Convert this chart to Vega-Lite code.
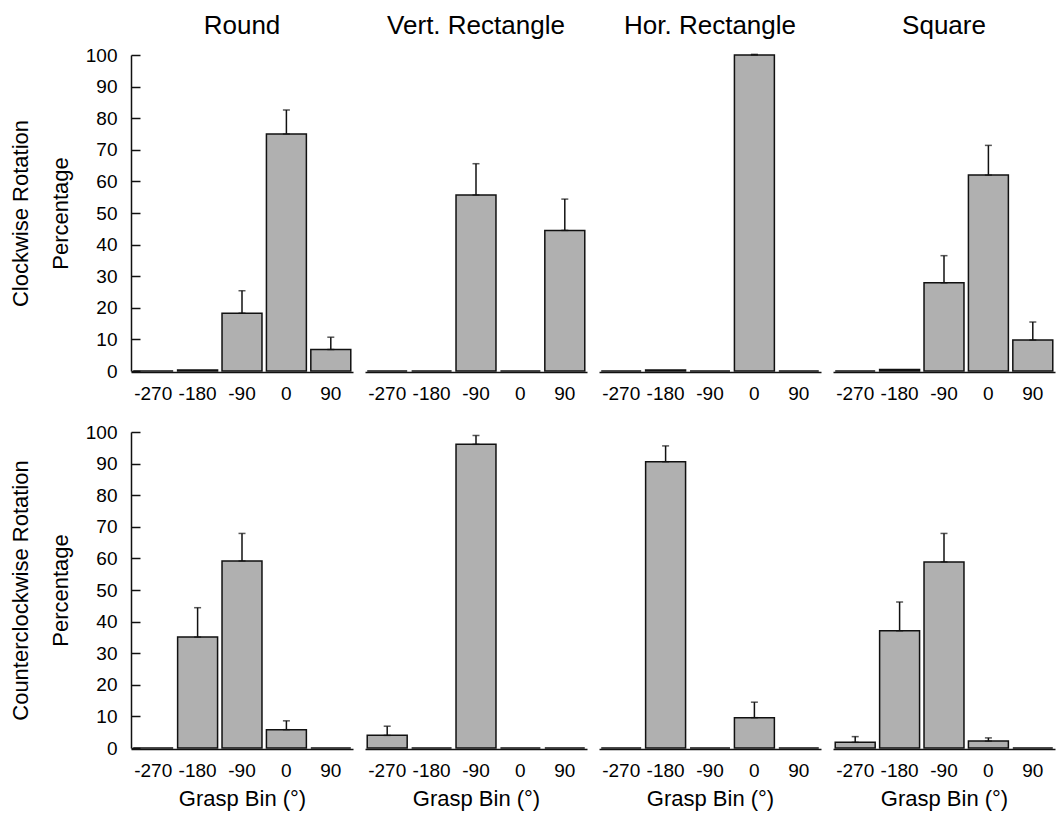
{
  "$schema": "https://vega.github.io/schema/vega-lite/v6.json",
  "padding": {"left": 9, "top": 13, "right": 2, "bottom": 2},
  "data": {
    "values": [
      {"rot": "CW", "shape": "Round", "bin": -270, "value": 0, "err": null},
      {"rot": "CW", "shape": "Round", "bin": -180, "value": 0.3, "err": null},
      {"rot": "CW", "shape": "Round", "bin": -90, "value": 18.3, "err": 25.4},
      {"rot": "CW", "shape": "Round", "bin": 0, "value": 75.0, "err": 82.6},
      {"rot": "CW", "shape": "Round", "bin": 90, "value": 6.8, "err": 10.7},
      {"rot": "CW", "shape": "Vert. Rectangle", "bin": -270, "value": 0, "err": null},
      {"rot": "CW", "shape": "Vert. Rectangle", "bin": -180, "value": 0, "err": null},
      {"rot": "CW", "shape": "Vert. Rectangle", "bin": -90, "value": 55.7, "err": 65.6},
      {"rot": "CW", "shape": "Vert. Rectangle", "bin": 0, "value": 0, "err": null},
      {"rot": "CW", "shape": "Vert. Rectangle", "bin": 90, "value": 44.5, "err": 54.4},
      {"rot": "CW", "shape": "Hor. Rectangle", "bin": -270, "value": 0, "err": null},
      {"rot": "CW", "shape": "Hor. Rectangle", "bin": -180, "value": 0.3, "err": null},
      {"rot": "CW", "shape": "Hor. Rectangle", "bin": -90, "value": 0, "err": null},
      {"rot": "CW", "shape": "Hor. Rectangle", "bin": 0, "value": 100, "err": 100.2},
      {"rot": "CW", "shape": "Hor. Rectangle", "bin": 90, "value": 0, "err": null},
      {"rot": "CW", "shape": "Square", "bin": -270, "value": 0, "err": null},
      {"rot": "CW", "shape": "Square", "bin": -180, "value": 0.5, "err": null},
      {"rot": "CW", "shape": "Square", "bin": -90, "value": 27.9, "err": 36.5},
      {"rot": "CW", "shape": "Square", "bin": 0, "value": 62.0, "err": 71.4},
      {"rot": "CW", "shape": "Square", "bin": 90, "value": 9.8, "err": 15.5},
      {"rot": "CCW", "shape": "Round", "bin": -270, "value": 0, "err": null},
      {"rot": "CCW", "shape": "Round", "bin": -180, "value": 35.1, "err": 44.4},
      {"rot": "CCW", "shape": "Round", "bin": -90, "value": 59.2, "err": 67.9},
      {"rot": "CCW", "shape": "Round", "bin": 0, "value": 5.8, "err": 8.6},
      {"rot": "CCW", "shape": "Round", "bin": 90, "value": 0, "err": null},
      {"rot": "CCW", "shape": "Vert. Rectangle", "bin": -270, "value": 4.0, "err": 6.9},
      {"rot": "CCW", "shape": "Vert. Rectangle", "bin": -180, "value": 0, "err": null},
      {"rot": "CCW", "shape": "Vert. Rectangle", "bin": -90, "value": 96.1, "err": 98.9},
      {"rot": "CCW", "shape": "Vert. Rectangle", "bin": 0, "value": 0, "err": null},
      {"rot": "CCW", "shape": "Vert. Rectangle", "bin": 90, "value": 0, "err": null},
      {"rot": "CCW", "shape": "Hor. Rectangle", "bin": -270, "value": 0, "err": null},
      {"rot": "CCW", "shape": "Hor. Rectangle", "bin": -180, "value": 90.6, "err": 95.6},
      {"rot": "CCW", "shape": "Hor. Rectangle", "bin": -90, "value": 0, "err": null},
      {"rot": "CCW", "shape": "Hor. Rectangle", "bin": 0, "value": 9.6, "err": 14.5},
      {"rot": "CCW", "shape": "Hor. Rectangle", "bin": 90, "value": 0, "err": null},
      {"rot": "CCW", "shape": "Square", "bin": -270, "value": 1.8, "err": 3.6},
      {"rot": "CCW", "shape": "Square", "bin": -180, "value": 37.1, "err": 46.2},
      {"rot": "CCW", "shape": "Square", "bin": -90, "value": 58.9, "err": 67.9},
      {"rot": "CCW", "shape": "Square", "bin": 0, "value": 2.2, "err": 3.2},
      {"rot": "CCW", "shape": "Square", "bin": 90, "value": 0, "err": null}
    ]
  },
  "spacing": 20,
  "vconcat": [
    {
      "transform": [{"filter": "datum.rot === 'CW'"}],
      "facet": {
        "column": {
          "field": "shape", "type": "nominal",
          "sort": ["Round", "Vert. Rectangle", "Hor. Rectangle", "Square"],
          "header": {"title": null, "labelFontSize": 26, "labelPadding": 14, "labelColor": "black"}
        }
      },
      "spacing": 12,
      "spec": {
        "width": 222,
        "height": 316,
        "encoding": {
          "x": {
            "field": "bin", "type": "ordinal",
            "scale": {"domain": [-270, -180, -90, 0, 90], "paddingInner": 0.1, "paddingOuter": 0.05},
            "axis": {"title": null, "ticks": false, "labelAngle": 0, "labelPadding": 12}
          },
          "y": {
            "field": "value", "type": "quantitative",
            "scale": {"domain": [0, 100], "nice": false},
            "axis": {"title": ["Clockwise Rotation", "Percentage"], "values": [0, 10, 20, 30, 40, 50, 60, 70, 80, 90, 100], "labelOverlap": false, "tickSize": -9, "labelPadding": 23, "titlePadding": 13, "titleLineHeight": 40}
          }
        },
        "layer": [
          {
            "mark": {"type": "bar", "fill": "#b0b0b0", "stroke": "#111111", "strokeWidth": 1.5}
          },
          {
            "transform": [{"filter": "datum.err != null"}],
            "mark": {"type": "errorbar", "ticks": {"size": 7, "thickness": 1.5, "color": "#111111"}, "rule": {"strokeWidth": 1.5, "color": "#111111"}},
            "encoding": {"y2": {"field": "err"}}
          }
        ]
      }
    },
    {
      "transform": [{"filter": "datum.rot === 'CCW'"}],
      "facet": {
        "column": {
          "field": "shape", "type": "nominal",
          "sort": ["Round", "Vert. Rectangle", "Hor. Rectangle", "Square"],
          "header": {"title": null, "labels": false}
        }
      },
      "spacing": 12,
      "spec": {
        "width": 222,
        "height": 316,
        "encoding": {
          "x": {
            "field": "bin", "type": "ordinal",
            "scale": {"domain": [-270, -180, -90, 0, 90], "paddingInner": 0.1, "paddingOuter": 0.05},
            "axis": {"title": "Grasp Bin (°)", "ticks": false, "labelAngle": 0, "labelPadding": 12, "titlePadding": 8}
          },
          "y": {
            "field": "value", "type": "quantitative",
            "scale": {"domain": [0, 100], "nice": false},
            "axis": {"title": ["Counterclockwise Rotation", "Percentage"], "values": [0, 10, 20, 30, 40, 50, 60, 70, 80, 90, 100], "labelOverlap": false, "tickSize": -9, "labelPadding": 23, "titlePadding": 13, "titleLineHeight": 40}
          }
        },
        "layer": [
          {
            "mark": {"type": "bar", "fill": "#b0b0b0", "stroke": "#111111", "strokeWidth": 1.5}
          },
          {
            "transform": [{"filter": "datum.err != null"}],
            "mark": {"type": "errorbar", "ticks": {"size": 7, "thickness": 1.5, "color": "#111111"}, "rule": {"strokeWidth": 1.5, "color": "#111111"}},
            "encoding": {"y2": {"field": "err"}}
          }
        ]
      }
    }
  ],
  "config": {
    "font": "Liberation Sans",
    "view": {"stroke": null},
    "axis": {
      "grid": false,
      "domainColor": "#111111",
      "domainWidth": 1.5,
      "tickColor": "#111111",
      "tickWidth": 1.5,
      "labelColor": "black",
      "labelFontSize": 19,
      "titleColor": "black",
      "titleFontSize": 22,
      "titleFontWeight": "normal"
    }
  }
}
